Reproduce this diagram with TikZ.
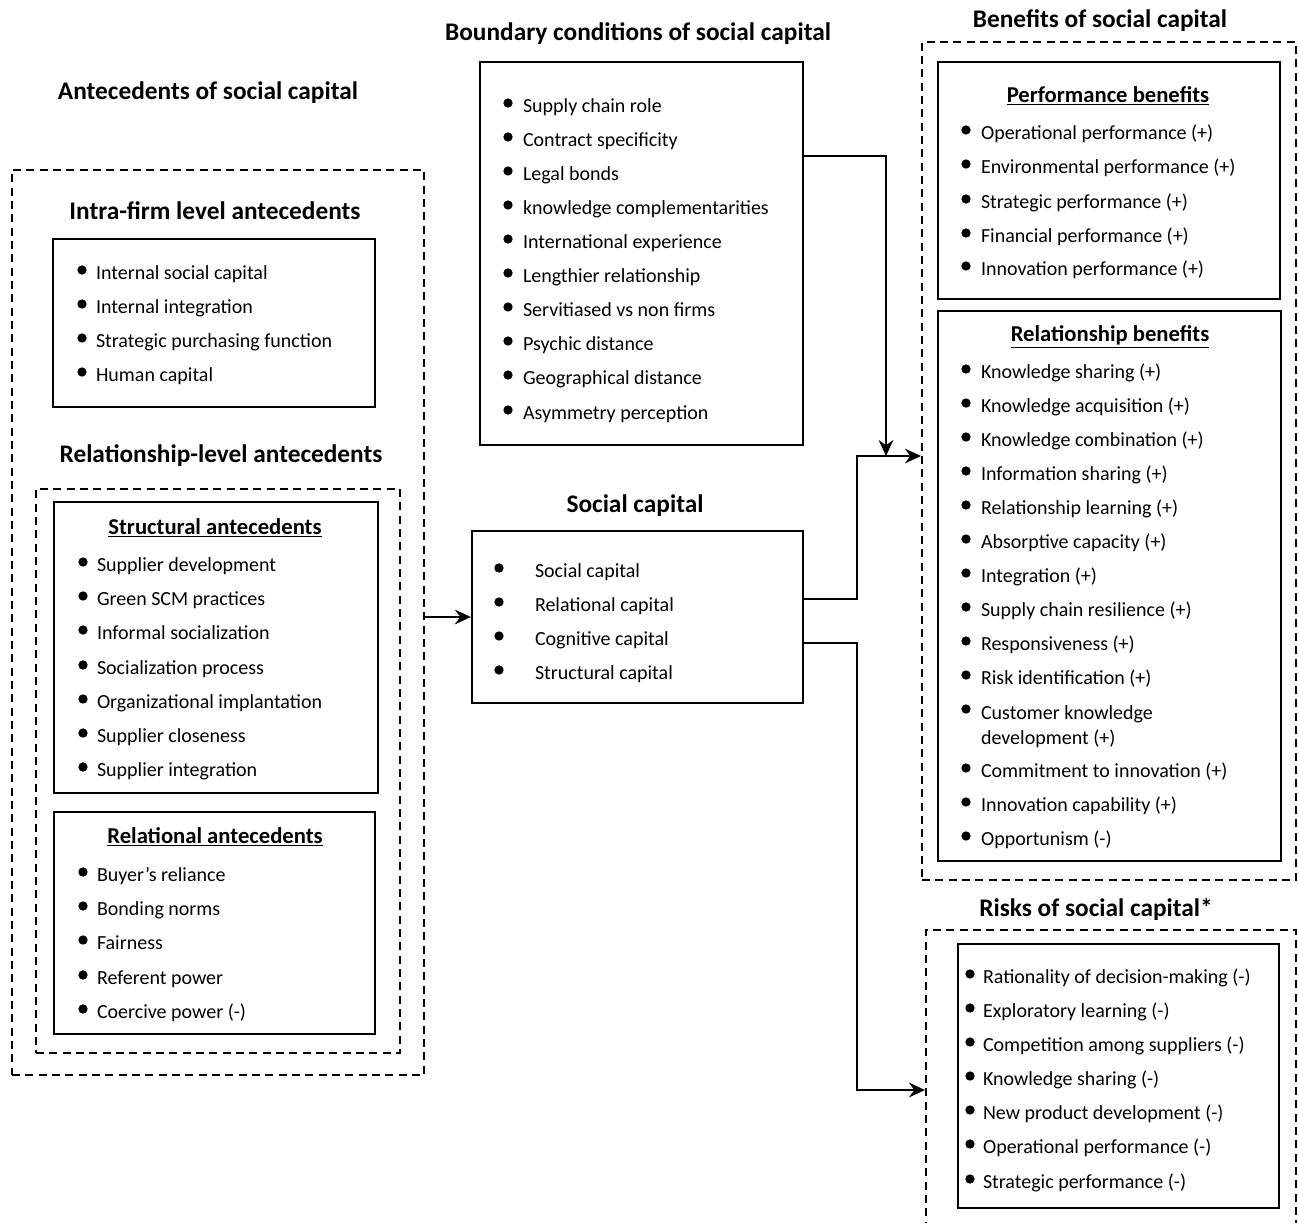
\documentclass[tikz,border=0pt]{standalone}
\usepackage{fontspec}
\setmainfont{Carlito}
\usetikzlibrary{arrows.meta,fit}

\tikzset{every picture/.style={line width=1.5pt}}
\tikzset{
  box/.style={draw, line width=1.7pt, inner sep=0pt},
  dbox/.style={draw, dash pattern=on 6pt off 4pt, line width=1.5pt, inner sep=0pt},
  head/.style={inner sep=0pt, font=\fontsize{19}{22}\selectfont\bfseries},
  sub/.style={inner sep=0pt, font=\fontsize{17}{20}\selectfont\bfseries},
  item/.style={anchor=west, inner sep=0pt, text height=12pt, text depth=2pt, font=\fontsize{15}{18.75}\selectfont},
  dot/.style={circle, fill, inner sep=0pt, minimum size=7pt},
  arr/.style={-{Stealth[length=12pt, width=11pt, inset=4pt]}, line width=1.7pt}
}

\begin{document}
\begin{tikzpicture}[x=0.75pt,y=0.75pt,yscale=-1,xscale=1]
\useasboundingbox (0,0) rectangle (1298,1222);

% Antecedents
\node[head] (ant-t) at (208,93) {Antecedents of social capital};
\node[dbox, fit={(12,170) (424,1075)}] (ant) {};
\node[head] (intra-t) at (215,211) {Intra-firm level antecedents};
\node[box, fit={(53,239) (375,407)}] (intra) {};
\foreach \y/\t [count=\i] in {273/Internal social capital, 307/Internal integration, 341/Strategic purchasing function, 375/Human capital}{
  \node[dot] (intra-d\i) at (82,\y-3) {};
  \node[item] (intra-\i) at (95,\y) {\t};
}
\node[head] (rel-t) at (221,456) {Relationship-level antecedents};
\node[dbox, fit={(36,489) (400,1053)}] (rel) {};
\node[box, fit={(54,502) (378,793)}] (str) {};
\node[sub] (str-t) at (215,528) {\underline{Structural antecedents}};
\foreach \y/\t [count=\i] in {565/Supplier development, 599/Green SCM practices, 633/Informal socialization, 668/Socialization process, 702/Organizational implantation, 736/Supplier closeness, 770/Supplier integration}{
  \node[dot] (str-d\i) at (83,\y-3) {};
  \node[item] (str-\i) at (96,\y) {\t};
}
\node[box, fit={(54,812) (375,1034)}] (rla) {};
\node[sub] (rla-t) at (215,837) {\underline{Relational antecedents}};
\foreach \y/\t [count=\i] in {875/Buyer’s reliance, 909/Bonding norms, 943/Fairness, 978/Referent power, 1012/Coercive power (-)}{
  \node[dot] (rla-d\i) at (83,\y-3) {};
  \node[item] (rla-\i) at (96,\y) {\t};
}

% Boundary conditions
\node[head] (bnd-t) at (638,34) {Boundary conditions of social capital};
\node[box, fit={(480,62) (803,445)}] (bnd) {};
\foreach \y/\t [count=\i] in {106/Supply chain role, 140/Contract specificity, 174/Legal bonds, 208/knowledge complementarities, 242/International experience, 276/Lengthier relationship, 310/Servitiased vs non firms, 344/Psychic distance, 378/Geographical distance, 413/Asymmetry perception}{
  \node[dot] (bnd-d\i) at (508,\y-3) {};
  \node[item] (bnd-\i) at (522,\y) {\t};
}

% Social capital
\node[head] (sc-t) at (635,506) {Social capital};
\node[box, fit={(472,531) (803,703)}] (sc) {};
\foreach \y/\t [count=\i] in {571/Social capital, 605/Relational capital, 639/Cognitive capital, 673/Structural capital}{
  \node[dot] (sc-d\i) at (499,\y-3) {};
  \node[item] (sc-\i) at (534,\y) {\t};
}

% Benefits
\node[head] (ben-t) at (1100,21) {Benefits of social capital};
\node[dbox, fit={(922,42) (1296,880)}] (ben) {};
\node[box, fit={(938,62) (1280,299)}] (perf) {};
\node[sub] (perf-t) at (1108,96) {\underline{Performance benefits}};
\foreach \y/\t [count=\i] in {133/Operational performance (+), 167/Environmental performance (+), 202/Strategic performance (+), 236/Financial performance (+), 269/Innovation performance (+)}{
  \node[dot] (perf-d\i) at (966,\y-3) {};
  \node[item] (perf-\i) at (980,\y) {\t};
}
\node[box, fit={(938,311) (1281,861)}] (rb) {};
\node[sub] (rb-t) at (1110,337) {\underline{Relationship benefits}};
\foreach \y/\t [count=\i] in {372/Knowledge sharing (+), 406/Knowledge acquisition (+), 440/Knowledge combination (+), 474/Information sharing (+), 508/Relationship learning (+), 542/Absorptive capacity (+), 576/Integration (+), 610/Supply chain resilience (+), 644/Responsiveness (+), 678/Risk identification (+), 771/Commitment to innovation (+), 805/Innovation capability (+), 839/Opportunism (-)}{
  \node[dot] (rb-d\i) at (966,\y-3) {};
  \node[item] (rb-\i) at (980,\y) {\t};
}
\node[dot] (rb-dc) at (966,709) {};
\node[item, text height=, text depth=, anchor=north west, align=left] (rb-c) at (980,705) {Customer knowledge\\development (+)};

% Risks
\node[head] (risk-t) at (1096,909) {Risks of social capital*};
\node[dbox, fit={(926,930) (1296,1245)}] (risk) {};
\node[box, fit={(958,944) (1279,1208)}] (rk) {};
\foreach \y/\t [count=\i] in {977/Rationality of decision-making (-), 1011/Exploratory learning (-), 1045/Competition among suppliers (-), 1079/Knowledge sharing (-), 1113/New product development (-), 1147/Operational performance (-), 1182/Strategic performance (-)}{
  \node[dot] (rk-d\i) at (970,\y-3) {};
  \node[item] (rk-\i) at (982,\y) {\t};
}

% Connectors
\coordinate (j1) at (886,456);
\coordinate (j2) at (857,456);
\coordinate (j3) at (857,1090);
\draw[arr] (ant.east |- sc.west) -- (sc.west);
\draw[arr] (bnd.east) ++(0,-97.5) -| (j1);
\draw[arr] (sc.east) ++(0,-18) -| (j2) -- (ben.west |- j2);
\draw[arr] (sc.east) ++(0,26) -| (j3) -- (risk.west |- j3);

\end{tikzpicture}
\end{document}
